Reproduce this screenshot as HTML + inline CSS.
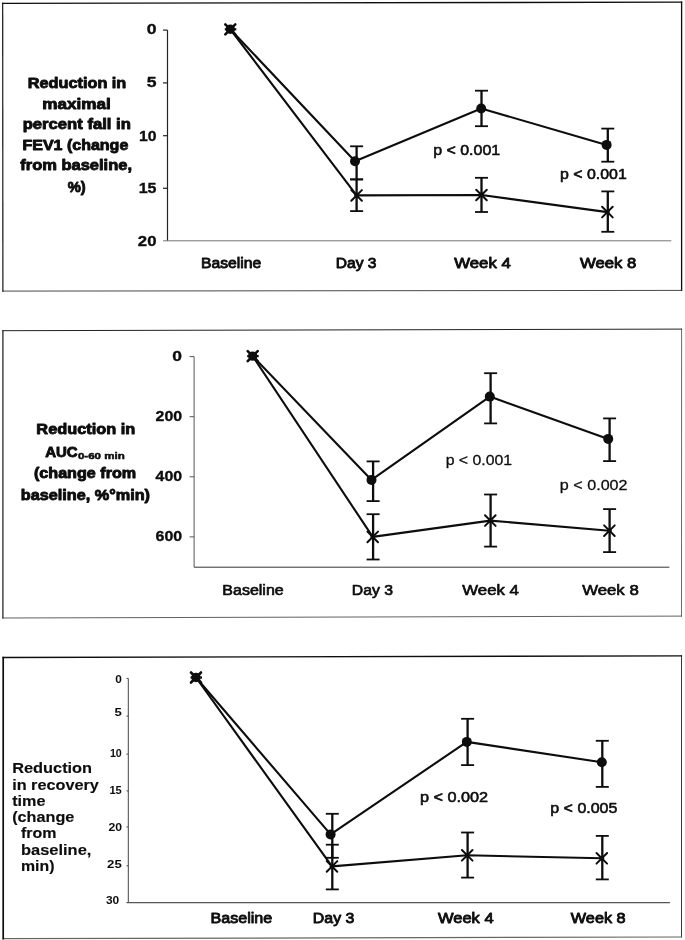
<!DOCTYPE html>
<html lang="en"><head><meta charset="utf-8"><title>Figure</title>
<style>
html,body{margin:0;padding:0;background:#fff;}
body{width:685px;height:940px;overflow:hidden;}
svg{display:block;font-family:"Liberation Sans",Arial,Helvetica,sans-serif;fill:#0d0d0d;}
</style></head><body>
<svg width="685" height="940" viewBox="0 0 685 940">
<rect width="685" height="940" fill="#fff"/>

<g id="panel1">
<line x1="2.7" y1="3.3" x2="681.6" y2="2.2" stroke="#0d0d0d" stroke-width="1.3" stroke-linecap="square"/>
<line x1="681.6" y1="2.2" x2="681.6" y2="290.4" stroke="#0d0d0d" stroke-width="1.3" stroke-linecap="square"/>
<line x1="2.9" y1="291.1" x2="681.6" y2="290.4" stroke="#333" stroke-width="0.9" stroke-linecap="square"/>
<line x1="2.7" y1="3.3" x2="2.9" y2="291.1" stroke="#0d0d0d" stroke-width="1.15" stroke-linecap="square"/>
<line x1="167.5" y1="30.1" x2="167.5" y2="240.8" stroke="#222" stroke-width="1.2" />
<line x1="163.0" y1="30.1" x2="167.5" y2="30.1" stroke="#222" stroke-width="1.2" />
<line x1="163.0" y1="82.9" x2="167.5" y2="82.9" stroke="#222" stroke-width="1.2" />
<line x1="163.0" y1="135.7" x2="167.5" y2="135.7" stroke="#222" stroke-width="1.2" />
<line x1="163.0" y1="188.3" x2="167.5" y2="188.3" stroke="#222" stroke-width="1.2" />
<line x1="163.0" y1="240.8" x2="671.3" y2="240.8" stroke="#666" stroke-width="0.9" />
<polyline points="230.3,29.3 355.0,161.3 481.2,108.5 606.6,144.9" fill="none" stroke="#0d0d0d" stroke-width="2.1" stroke-linejoin="round"/>
<polyline points="230.3,29.3 356.6,195.4 481.5,195.0 607.4,212.1" fill="none" stroke="#0d0d0d" stroke-width="2.1" stroke-linejoin="round"/>
<line x1="356.6" y1="146.3" x2="356.6" y2="179.4" stroke="#0d0d0d" stroke-width="2.3" />
<line x1="350.1" y1="146.3" x2="363.1" y2="146.3" stroke="#0d0d0d" stroke-width="1.8" />
<line x1="350.1" y1="179.4" x2="363.1" y2="179.4" stroke="#0d0d0d" stroke-width="1.8" />
<line x1="356.6" y1="179.4" x2="356.6" y2="211.1" stroke="#0d0d0d" stroke-width="2.3" />
<line x1="350.1" y1="179.4" x2="363.1" y2="179.4" stroke="#0d0d0d" stroke-width="1.8" />
<line x1="350.1" y1="211.1" x2="363.1" y2="211.1" stroke="#0d0d0d" stroke-width="1.8" />
<line x1="481.5" y1="90.7" x2="481.5" y2="126.2" stroke="#0d0d0d" stroke-width="2.3" />
<line x1="475.0" y1="90.7" x2="488.0" y2="90.7" stroke="#0d0d0d" stroke-width="1.8" />
<line x1="475.0" y1="126.2" x2="488.0" y2="126.2" stroke="#0d0d0d" stroke-width="1.8" />
<line x1="481.5" y1="177.8" x2="481.5" y2="212.0" stroke="#0d0d0d" stroke-width="2.3" />
<line x1="475.0" y1="177.8" x2="488.0" y2="177.8" stroke="#0d0d0d" stroke-width="1.8" />
<line x1="475.0" y1="212.0" x2="488.0" y2="212.0" stroke="#0d0d0d" stroke-width="1.8" />
<line x1="607.8" y1="128.6" x2="607.8" y2="161.7" stroke="#0d0d0d" stroke-width="2.3" />
<line x1="601.3" y1="128.6" x2="614.3" y2="128.6" stroke="#0d0d0d" stroke-width="1.8" />
<line x1="601.3" y1="161.7" x2="614.3" y2="161.7" stroke="#0d0d0d" stroke-width="1.8" />
<line x1="607.8" y1="191.4" x2="607.8" y2="231.8" stroke="#0d0d0d" stroke-width="2.3" />
<line x1="601.3" y1="191.4" x2="614.3" y2="191.4" stroke="#0d0d0d" stroke-width="1.8" />
<line x1="601.3" y1="231.8" x2="614.3" y2="231.8" stroke="#0d0d0d" stroke-width="1.8" />
<circle cx="230.3" cy="29.3" r="4.7" fill="#0d0d0d"/>
<line x1="225.3" y1="24.3" x2="235.3" y2="34.3" stroke="#0d0d0d" stroke-width="2.6" stroke-linecap="round"/>
<line x1="225.3" y1="34.3" x2="235.3" y2="24.3" stroke="#0d0d0d" stroke-width="2.6" stroke-linecap="round"/>
<circle cx="230.3" cy="29.3" r="2.4" fill="#0d0d0d"/>
<line x1="224.8" y1="29.3" x2="236.3" y2="29.3" stroke="#0d0d0d" stroke-width="2.2" />
<circle cx="355.0" cy="161.3" r="5.0" fill="#0d0d0d"/>
<line x1="351.3" y1="190.1" x2="361.9" y2="200.7" stroke="#0d0d0d" stroke-width="2.0" stroke-linecap="round"/>
<line x1="351.3" y1="200.7" x2="361.9" y2="190.1" stroke="#0d0d0d" stroke-width="2.0" stroke-linecap="round"/>
<circle cx="356.6" cy="195.4" r="2.4" fill="#0d0d0d"/>
<circle cx="481.2" cy="108.5" r="5.0" fill="#0d0d0d"/>
<line x1="476.2" y1="189.7" x2="486.8" y2="200.3" stroke="#0d0d0d" stroke-width="2.0" stroke-linecap="round"/>
<line x1="476.2" y1="200.3" x2="486.8" y2="189.7" stroke="#0d0d0d" stroke-width="2.0" stroke-linecap="round"/>
<circle cx="481.5" cy="195.0" r="2.4" fill="#0d0d0d"/>
<circle cx="606.6" cy="144.9" r="5.0" fill="#0d0d0d"/>
<line x1="602.1" y1="206.8" x2="612.7" y2="217.4" stroke="#0d0d0d" stroke-width="2.0" stroke-linecap="round"/>
<line x1="602.1" y1="217.4" x2="612.7" y2="206.8" stroke="#0d0d0d" stroke-width="2.0" stroke-linecap="round"/>
<circle cx="607.4" cy="212.1" r="2.4" fill="#0d0d0d"/>
<text x="146.68" y="34.3" font-size="15.5" font-weight="bold" textLength="9.80" lengthAdjust="spacingAndGlyphs" stroke="#0d0d0d" stroke-width="0.35" stroke-linejoin="round">0</text>
<text x="146.68" y="87.4" font-size="15.5" font-weight="bold" textLength="9.80" lengthAdjust="spacingAndGlyphs" stroke="#0d0d0d" stroke-width="0.35" stroke-linejoin="round">5</text>
<text x="138.98" y="140.8" font-size="15.5" font-weight="bold" textLength="17.55" lengthAdjust="spacingAndGlyphs" stroke="#0d0d0d" stroke-width="0.35" stroke-linejoin="round">10</text>
<text x="138.68" y="193.0" font-size="15.5" font-weight="bold" textLength="17.84" lengthAdjust="spacingAndGlyphs" stroke="#0d0d0d" stroke-width="0.35" stroke-linejoin="round">15</text>
<text x="137.88" y="246.3" font-size="15.5" font-weight="bold" textLength="18.63" lengthAdjust="spacingAndGlyphs" stroke="#0d0d0d" stroke-width="0.35" stroke-linejoin="round">20</text>
<text x="27.75" y="87.6" font-size="15.5" font-weight="bold" textLength="98.56" lengthAdjust="spacingAndGlyphs" stroke="#0d0d0d" stroke-width="0.9" stroke-linejoin="round">Reduction in</text>
<text x="42.35" y="108.6" font-size="15.5" font-weight="bold" textLength="68.41" lengthAdjust="spacingAndGlyphs" stroke="#0d0d0d" stroke-width="0.9" stroke-linejoin="round">maximal</text>
<text x="22.65" y="129.0" font-size="15.5" font-weight="bold" textLength="108.24" lengthAdjust="spacingAndGlyphs" stroke="#0d0d0d" stroke-width="0.9" stroke-linejoin="round">percent fall in</text>
<text x="22.45" y="149.6" font-size="15.5" font-weight="bold" textLength="105.87" lengthAdjust="spacingAndGlyphs" stroke="#0d0d0d" stroke-width="0.9" stroke-linejoin="round">FEV1 (change</text>
<text x="20.25" y="170.4" font-size="15.5" font-weight="bold" textLength="111.74" lengthAdjust="spacingAndGlyphs" stroke="#0d0d0d" stroke-width="0.9" stroke-linejoin="round">from baseline,</text>
<text x="67.75" y="191.5" font-size="15.5" font-weight="bold" textLength="17.95" lengthAdjust="spacingAndGlyphs" stroke="#0d0d0d" stroke-width="0.9" stroke-linejoin="round">%)</text>
<text x="200.95" y="268.4" font-size="15.5" font-weight="normal" textLength="60.19" lengthAdjust="spacingAndGlyphs" stroke="#0d0d0d" stroke-width="0.9" stroke-linejoin="round">Baseline</text>
<text x="335.75" y="268.4" font-size="15.5" font-weight="normal" textLength="40.70" lengthAdjust="spacingAndGlyphs" stroke="#0d0d0d" stroke-width="0.9" stroke-linejoin="round">Day 3</text>
<text x="454.25" y="268.4" font-size="15.5" font-weight="normal" textLength="56.53" lengthAdjust="spacingAndGlyphs" stroke="#0d0d0d" stroke-width="0.9" stroke-linejoin="round">Week 4</text>
<text x="580.05" y="268.4" font-size="15.5" font-weight="normal" textLength="56.33" lengthAdjust="spacingAndGlyphs" stroke="#0d0d0d" stroke-width="0.9" stroke-linejoin="round">Week 8</text>
<text x="433.20" y="155.4" font-size="15.5" font-weight="normal" textLength="66.99" lengthAdjust="spacingAndGlyphs" stroke="#0d0d0d" stroke-width="0.6" stroke-linejoin="round">p &lt; 0.001</text>
<text x="560.00" y="179.2" font-size="15.5" font-weight="normal" textLength="66.79" lengthAdjust="spacingAndGlyphs" stroke="#0d0d0d" stroke-width="0.6" stroke-linejoin="round">p &lt; 0.001</text>
</g>
<g id="panel2">
<line x1="2.9" y1="330.7" x2="681.6" y2="329.1" stroke="#222" stroke-width="1.0" stroke-linecap="square"/>
<line x1="681.6" y1="329.1" x2="681.5" y2="616.1" stroke="#444" stroke-width="0.8" stroke-linecap="square"/>
<line x1="2.9" y1="618.0" x2="681.5" y2="616.1" stroke="#444" stroke-width="0.85" stroke-linecap="square"/>
<line x1="2.9" y1="330.7" x2="2.9" y2="618.0" stroke="#0d0d0d" stroke-width="1.15" stroke-linecap="square"/>
<line x1="194.1" y1="356.6" x2="194.1" y2="567.2" stroke="#444" stroke-width="0.9" />
<line x1="189.6" y1="356.6" x2="194.1" y2="356.6" stroke="#444" stroke-width="0.9" />
<line x1="189.6" y1="416.7" x2="194.1" y2="416.7" stroke="#444" stroke-width="0.9" />
<line x1="189.6" y1="476.8" x2="194.1" y2="476.8" stroke="#444" stroke-width="0.9" />
<line x1="189.6" y1="536.9" x2="194.1" y2="536.9" stroke="#444" stroke-width="0.9" />
<line x1="194.1" y1="567.2" x2="669.4" y2="567.2" stroke="#333" stroke-width="1.0" />
<polyline points="252.7,356.1 371.5,479.9 489.8,396.6 608.2,438.9" fill="none" stroke="#0d0d0d" stroke-width="2.1" stroke-linejoin="round"/>
<polyline points="252.7,356.1 372.7,536.9 490.3,520.6 609.4,530.7" fill="none" stroke="#0d0d0d" stroke-width="2.1" stroke-linejoin="round"/>
<line x1="373.1" y1="461.4" x2="373.1" y2="501.1" stroke="#0d0d0d" stroke-width="2.3" />
<line x1="366.6" y1="461.4" x2="379.6" y2="461.4" stroke="#0d0d0d" stroke-width="1.8" />
<line x1="366.6" y1="501.1" x2="379.6" y2="501.1" stroke="#0d0d0d" stroke-width="1.8" />
<line x1="373.1" y1="514.2" x2="373.1" y2="559.5" stroke="#0d0d0d" stroke-width="2.3" />
<line x1="366.6" y1="514.2" x2="379.6" y2="514.2" stroke="#0d0d0d" stroke-width="1.8" />
<line x1="366.6" y1="559.5" x2="379.6" y2="559.5" stroke="#0d0d0d" stroke-width="1.8" />
<line x1="490.6" y1="373.2" x2="490.6" y2="423.4" stroke="#0d0d0d" stroke-width="2.3" />
<line x1="484.1" y1="373.2" x2="497.1" y2="373.2" stroke="#0d0d0d" stroke-width="1.8" />
<line x1="484.1" y1="423.4" x2="497.1" y2="423.4" stroke="#0d0d0d" stroke-width="1.8" />
<line x1="490.6" y1="494.5" x2="490.6" y2="546.6" stroke="#0d0d0d" stroke-width="2.3" />
<line x1="484.1" y1="494.5" x2="497.1" y2="494.5" stroke="#0d0d0d" stroke-width="1.8" />
<line x1="484.1" y1="546.6" x2="497.1" y2="546.6" stroke="#0d0d0d" stroke-width="1.8" />
<line x1="609.6" y1="418.4" x2="609.6" y2="461.1" stroke="#0d0d0d" stroke-width="2.3" />
<line x1="603.1" y1="418.4" x2="616.1" y2="418.4" stroke="#0d0d0d" stroke-width="1.8" />
<line x1="603.1" y1="461.1" x2="616.1" y2="461.1" stroke="#0d0d0d" stroke-width="1.8" />
<line x1="609.6" y1="509.1" x2="609.6" y2="552.1" stroke="#0d0d0d" stroke-width="2.3" />
<line x1="603.1" y1="509.1" x2="616.1" y2="509.1" stroke="#0d0d0d" stroke-width="1.8" />
<line x1="603.1" y1="552.1" x2="616.1" y2="552.1" stroke="#0d0d0d" stroke-width="1.8" />
<circle cx="252.7" cy="356.1" r="4.7" fill="#0d0d0d"/>
<line x1="247.7" y1="351.1" x2="257.7" y2="361.1" stroke="#0d0d0d" stroke-width="2.6" stroke-linecap="round"/>
<line x1="247.7" y1="361.1" x2="257.7" y2="351.1" stroke="#0d0d0d" stroke-width="2.6" stroke-linecap="round"/>
<circle cx="252.7" cy="356.1" r="2.4" fill="#0d0d0d"/>
<line x1="247.2" y1="356.1" x2="258.7" y2="356.1" stroke="#0d0d0d" stroke-width="2.2" />
<circle cx="371.5" cy="479.9" r="5.0" fill="#0d0d0d"/>
<line x1="367.4" y1="531.6" x2="378.0" y2="542.2" stroke="#0d0d0d" stroke-width="2.0" stroke-linecap="round"/>
<line x1="367.4" y1="542.2" x2="378.0" y2="531.6" stroke="#0d0d0d" stroke-width="2.0" stroke-linecap="round"/>
<circle cx="372.7" cy="536.9" r="2.4" fill="#0d0d0d"/>
<circle cx="489.8" cy="396.6" r="5.0" fill="#0d0d0d"/>
<line x1="485.0" y1="515.3" x2="495.6" y2="525.9" stroke="#0d0d0d" stroke-width="2.0" stroke-linecap="round"/>
<line x1="485.0" y1="525.9" x2="495.6" y2="515.3" stroke="#0d0d0d" stroke-width="2.0" stroke-linecap="round"/>
<circle cx="490.3" cy="520.6" r="2.4" fill="#0d0d0d"/>
<circle cx="608.2" cy="438.9" r="5.0" fill="#0d0d0d"/>
<line x1="604.1" y1="525.4" x2="614.7" y2="536.0" stroke="#0d0d0d" stroke-width="2.0" stroke-linecap="round"/>
<line x1="604.1" y1="536.0" x2="614.7" y2="525.4" stroke="#0d0d0d" stroke-width="2.0" stroke-linecap="round"/>
<circle cx="609.4" cy="530.7" r="2.4" fill="#0d0d0d"/>
<text x="172.38" y="360.9" font-size="15.5" font-weight="bold" textLength="9.71" lengthAdjust="spacingAndGlyphs" stroke="#0d0d0d" stroke-width="0.35" stroke-linejoin="round">0</text>
<text x="155.58" y="421.0" font-size="15.5" font-weight="bold" textLength="26.55" lengthAdjust="spacingAndGlyphs" stroke="#0d0d0d" stroke-width="0.35" stroke-linejoin="round">200</text>
<text x="155.58" y="481.1" font-size="15.5" font-weight="bold" textLength="26.55" lengthAdjust="spacingAndGlyphs" stroke="#0d0d0d" stroke-width="0.35" stroke-linejoin="round">400</text>
<text x="155.58" y="541.2" font-size="15.5" font-weight="bold" textLength="26.55" lengthAdjust="spacingAndGlyphs" stroke="#0d0d0d" stroke-width="0.35" stroke-linejoin="round">600</text>
<text x="36.35" y="434.0" font-size="15" font-weight="bold" textLength="98.82" lengthAdjust="spacingAndGlyphs" stroke="#0d0d0d" stroke-width="0.9" stroke-linejoin="round">Reduction in</text>
<text x="45.15" y="456.5" font-size="15" font-weight="bold" textLength="32.49" lengthAdjust="spacingAndGlyphs" stroke="#0d0d0d" stroke-width="0.9" stroke-linejoin="round">AUC</text>
<text x="77.95" y="459.2" font-size="9.5" font-weight="bold" textLength="46.79" lengthAdjust="spacingAndGlyphs" stroke="#0d0d0d" stroke-width="0.5" stroke-linejoin="round">0-60 min</text>
<text x="33.95" y="478.0" font-size="15" font-weight="bold" textLength="102.23" lengthAdjust="spacingAndGlyphs" stroke="#0d0d0d" stroke-width="0.9" stroke-linejoin="round">(change from</text>
<text x="20.85" y="499.6" font-size="15" font-weight="bold" textLength="129.12" lengthAdjust="spacingAndGlyphs" stroke="#0d0d0d" stroke-width="0.9" stroke-linejoin="round">baseline, %°min)</text>
<text x="222.35" y="595.4" font-size="15.5" font-weight="normal" textLength="61.38" lengthAdjust="spacingAndGlyphs" stroke="#0d0d0d" stroke-width="0.7" stroke-linejoin="round">Baseline</text>
<text x="351.85" y="595.4" font-size="15.5" font-weight="normal" textLength="41.19" lengthAdjust="spacingAndGlyphs" stroke="#0d0d0d" stroke-width="0.7" stroke-linejoin="round">Day 3</text>
<text x="462.25" y="595.4" font-size="15.5" font-weight="normal" textLength="56.64" lengthAdjust="spacingAndGlyphs" stroke="#0d0d0d" stroke-width="0.7" stroke-linejoin="round">Week 4</text>
<text x="582.15" y="595.4" font-size="15.5" font-weight="normal" textLength="56.64" lengthAdjust="spacingAndGlyphs" stroke="#0d0d0d" stroke-width="0.7" stroke-linejoin="round">Week 8</text>
<text x="445.65" y="464.8" font-size="15.5" font-weight="normal" textLength="66.50" lengthAdjust="spacingAndGlyphs" stroke="#0d0d0d" stroke-width="0.3" stroke-linejoin="round">p &lt; 0.001</text>
<text x="559.85" y="489.5" font-size="15.5" font-weight="normal" textLength="67.69" lengthAdjust="spacingAndGlyphs" stroke="#0d0d0d" stroke-width="0.3" stroke-linejoin="round">p &lt; 0.002</text>
</g>
<g id="panel3">
<line x1="3.2" y1="657.5" x2="681.5" y2="655.8" stroke="#0d0d0d" stroke-width="1.3" stroke-linecap="square"/>
<line x1="681.5" y1="655.8" x2="681.5" y2="937.0" stroke="#222" stroke-width="0.9" stroke-linecap="square"/>
<line x1="3.2" y1="938.7" x2="681.5" y2="937.0" stroke="#666" stroke-width="1.2" stroke-linecap="square"/>
<line x1="3.2" y1="657.5" x2="3.2" y2="938.7" stroke="#0d0d0d" stroke-width="1.7" stroke-linecap="square"/>
<line x1="128.3" y1="678.4" x2="128.3" y2="902.6" stroke="#444" stroke-width="1.0" />
<line x1="126.5" y1="678.4" x2="128.3" y2="678.4" stroke="#444" stroke-width="1.0" />
<line x1="126.5" y1="716.1" x2="128.3" y2="716.1" stroke="#444" stroke-width="1.0" />
<line x1="126.5" y1="754.1" x2="128.3" y2="754.1" stroke="#444" stroke-width="1.0" />
<line x1="126.5" y1="790.9" x2="128.3" y2="790.9" stroke="#444" stroke-width="1.0" />
<line x1="126.5" y1="827.0" x2="128.3" y2="827.0" stroke="#444" stroke-width="1.0" />
<line x1="126.5" y1="865.8" x2="128.3" y2="865.8" stroke="#444" stroke-width="1.0" />
<line x1="126.5" y1="902.6" x2="669.9" y2="902.6" stroke="#555" stroke-width="1.2" />
<polyline points="196.0,677.5 330.6,834.4 466.8,741.9 601.8,762.2" fill="none" stroke="#0d0d0d" stroke-width="2.1" stroke-linejoin="round"/>
<polyline points="196.0,677.5 332.0,866.4 467.2,855.3 601.8,858.3" fill="none" stroke="#0d0d0d" stroke-width="2.1" stroke-linejoin="round"/>
<line x1="332.3" y1="813.8" x2="332.3" y2="857.8" stroke="#0d0d0d" stroke-width="2.3" />
<line x1="325.8" y1="813.8" x2="338.8" y2="813.8" stroke="#0d0d0d" stroke-width="1.8" />
<line x1="325.8" y1="857.8" x2="338.8" y2="857.8" stroke="#0d0d0d" stroke-width="1.8" />
<line x1="332.3" y1="844.7" x2="332.3" y2="889.4" stroke="#0d0d0d" stroke-width="2.3" />
<line x1="325.8" y1="844.7" x2="338.8" y2="844.7" stroke="#0d0d0d" stroke-width="1.8" />
<line x1="325.8" y1="889.4" x2="338.8" y2="889.4" stroke="#0d0d0d" stroke-width="1.8" />
<line x1="467.6" y1="718.8" x2="467.6" y2="765.1" stroke="#0d0d0d" stroke-width="2.3" />
<line x1="461.1" y1="718.8" x2="474.1" y2="718.8" stroke="#0d0d0d" stroke-width="1.8" />
<line x1="461.1" y1="765.1" x2="474.1" y2="765.1" stroke="#0d0d0d" stroke-width="1.8" />
<line x1="467.6" y1="832.5" x2="467.6" y2="877.6" stroke="#0d0d0d" stroke-width="2.3" />
<line x1="461.1" y1="832.5" x2="474.1" y2="832.5" stroke="#0d0d0d" stroke-width="1.8" />
<line x1="461.1" y1="877.6" x2="474.1" y2="877.6" stroke="#0d0d0d" stroke-width="1.8" />
<line x1="602.3" y1="740.8" x2="602.3" y2="786.9" stroke="#0d0d0d" stroke-width="2.3" />
<line x1="595.8" y1="740.8" x2="608.8" y2="740.8" stroke="#0d0d0d" stroke-width="1.8" />
<line x1="595.8" y1="786.9" x2="608.8" y2="786.9" stroke="#0d0d0d" stroke-width="1.8" />
<line x1="602.3" y1="835.9" x2="602.3" y2="879.4" stroke="#0d0d0d" stroke-width="2.3" />
<line x1="595.8" y1="835.9" x2="608.8" y2="835.9" stroke="#0d0d0d" stroke-width="1.8" />
<line x1="595.8" y1="879.4" x2="608.8" y2="879.4" stroke="#0d0d0d" stroke-width="1.8" />
<circle cx="196.0" cy="677.5" r="4.7" fill="#0d0d0d"/>
<line x1="191.0" y1="672.5" x2="201.0" y2="682.5" stroke="#0d0d0d" stroke-width="2.6" stroke-linecap="round"/>
<line x1="191.0" y1="682.5" x2="201.0" y2="672.5" stroke="#0d0d0d" stroke-width="2.6" stroke-linecap="round"/>
<circle cx="196.0" cy="677.5" r="2.4" fill="#0d0d0d"/>
<line x1="190.5" y1="677.5" x2="202.0" y2="677.5" stroke="#0d0d0d" stroke-width="2.2" />
<circle cx="330.6" cy="834.4" r="5.0" fill="#0d0d0d"/>
<line x1="326.7" y1="861.1" x2="337.3" y2="871.7" stroke="#0d0d0d" stroke-width="2.0" stroke-linecap="round"/>
<line x1="326.7" y1="871.7" x2="337.3" y2="861.1" stroke="#0d0d0d" stroke-width="2.0" stroke-linecap="round"/>
<circle cx="332.0" cy="866.4" r="2.4" fill="#0d0d0d"/>
<circle cx="466.8" cy="741.9" r="5.0" fill="#0d0d0d"/>
<line x1="461.9" y1="850.0" x2="472.5" y2="860.6" stroke="#0d0d0d" stroke-width="2.0" stroke-linecap="round"/>
<line x1="461.9" y1="860.6" x2="472.5" y2="850.0" stroke="#0d0d0d" stroke-width="2.0" stroke-linecap="round"/>
<circle cx="467.2" cy="855.3" r="2.4" fill="#0d0d0d"/>
<circle cx="601.8" cy="762.2" r="5.0" fill="#0d0d0d"/>
<line x1="596.5" y1="853.0" x2="607.1" y2="863.6" stroke="#0d0d0d" stroke-width="2.0" stroke-linecap="round"/>
<line x1="596.5" y1="863.6" x2="607.1" y2="853.0" stroke="#0d0d0d" stroke-width="2.0" stroke-linecap="round"/>
<circle cx="601.8" cy="858.3" r="2.4" fill="#0d0d0d"/>
<text x="115.20" y="682.8" font-size="11" font-weight="bold" textLength="6.60" lengthAdjust="spacingAndGlyphs">0</text>
<text x="114.50" y="716.4" font-size="11" font-weight="bold" textLength="7.30" lengthAdjust="spacingAndGlyphs">5</text>
<text x="109.90" y="757.2" font-size="11" font-weight="bold" textLength="11.90" lengthAdjust="spacingAndGlyphs">10</text>
<text x="109.40" y="794.0" font-size="11" font-weight="bold" textLength="12.40" lengthAdjust="spacingAndGlyphs">15</text>
<text x="108.50" y="830.8" font-size="11" font-weight="bold" textLength="13.60" lengthAdjust="spacingAndGlyphs">20</text>
<text x="107.10" y="868.0" font-size="11" font-weight="bold" textLength="14.70" lengthAdjust="spacingAndGlyphs">25</text>
<text x="105.90" y="904.0" font-size="11" font-weight="bold" textLength="13.30" lengthAdjust="spacingAndGlyphs">30</text>
<text x="12.17" y="773.2" font-size="15.5" font-weight="bold" textLength="79.94" lengthAdjust="spacingAndGlyphs" stroke="#0d0d0d" stroke-width="0.15" stroke-linejoin="round">Reduction</text>
<text x="12.17" y="789.5" font-size="15.5" font-weight="bold" textLength="86.75" lengthAdjust="spacingAndGlyphs" stroke="#0d0d0d" stroke-width="0.15" stroke-linejoin="round">in recovery</text>
<text x="12.17" y="805.7" font-size="15.5" font-weight="bold" textLength="33.25" lengthAdjust="spacingAndGlyphs" stroke="#0d0d0d" stroke-width="0.15" stroke-linejoin="round">time</text>
<text x="12.17" y="822.0" font-size="15.5" font-weight="bold" textLength="62.24" lengthAdjust="spacingAndGlyphs" stroke="#0d0d0d" stroke-width="0.15" stroke-linejoin="round">(change</text>
<text x="20.97" y="838.2" font-size="15.5" font-weight="bold" textLength="35.45" lengthAdjust="spacingAndGlyphs" stroke="#0d0d0d" stroke-width="0.15" stroke-linejoin="round">from</text>
<text x="20.97" y="854.5" font-size="15.5" font-weight="bold" textLength="70.44" lengthAdjust="spacingAndGlyphs" stroke="#0d0d0d" stroke-width="0.15" stroke-linejoin="round">baseline,</text>
<text x="20.97" y="870.7" font-size="15.5" font-weight="bold" textLength="33.44" lengthAdjust="spacingAndGlyphs" stroke="#0d0d0d" stroke-width="0.15" stroke-linejoin="round">min)</text>
<text x="210.45" y="923.2" font-size="15.5" font-weight="normal" textLength="61.86" lengthAdjust="spacingAndGlyphs" stroke="#0d0d0d" stroke-width="0.9" stroke-linejoin="round">Baseline</text>
<text x="312.85" y="923.2" font-size="15.5" font-weight="normal" textLength="41.48" lengthAdjust="spacingAndGlyphs" stroke="#0d0d0d" stroke-width="0.9" stroke-linejoin="round">Day 3</text>
<text x="437.95" y="923.2" font-size="15.5" font-weight="normal" textLength="55.64" lengthAdjust="spacingAndGlyphs" stroke="#0d0d0d" stroke-width="0.9" stroke-linejoin="round">Week 4</text>
<text x="570.85" y="923.2" font-size="15.5" font-weight="normal" textLength="54.76" lengthAdjust="spacingAndGlyphs" stroke="#0d0d0d" stroke-width="0.9" stroke-linejoin="round">Week 8</text>
<text x="419.90" y="802.0" font-size="15.5" font-weight="normal" textLength="68.27" lengthAdjust="spacingAndGlyphs" stroke="#0d0d0d" stroke-width="0.6" stroke-linejoin="round">p &lt; 0.002</text>
<text x="550.30" y="812.6" font-size="15.5" font-weight="normal" textLength="67.09" lengthAdjust="spacingAndGlyphs" stroke="#0d0d0d" stroke-width="0.6" stroke-linejoin="round">p &lt; 0.005</text>
</g>
</svg>
</body></html>
